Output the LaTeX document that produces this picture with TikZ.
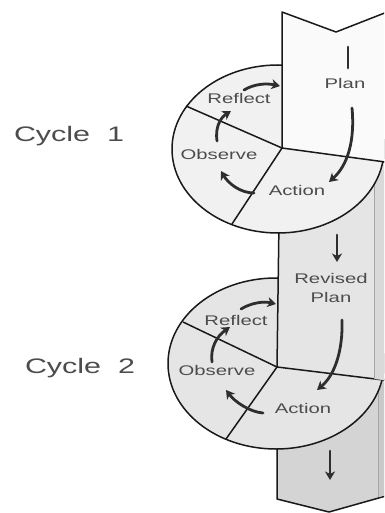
\documentclass[tikz,border=0pt]{standalone}
\usepackage{fontspec}
\setmainfont{Liberation Sans}
\usepackage{graphicx}
\usetikzlibrary{arrows.meta,calc}

\definecolor{colwhite}{gray}{0.98}
\definecolor{discone}{gray}{0.945}
\definecolor{colmid}{gray}{0.9}
\definecolor{sidemid}{gray}{0.85}
\definecolor{disctwo}{gray}{0.9}
\definecolor{colbot}{gray}{0.83}
\definecolor{sidebot}{gray}{0.79}
\definecolor{inktext}{gray}{0.3}
\definecolor{inkline}{gray}{0.1}
\definecolor{inkarrow}{gray}{0.18}

\newcommand{\widetext}[1]{\scalebox{1.45}[1]{#1}}

\begin{document}
\begin{tikzpicture}[
x=1pt, y=-1pt,
edge/.style={
  draw=inkline,
  line width=1.5pt,
  line join=round
  },
sideedge/.style={
  draw=gray!70,
  line width=0.6pt
  },
stepname/.style={
  text=inktext,
  font=\fontsize{14}{19}\selectfont,
  inner sep=1pt,
  align=center
  },
cyclename/.style={
  text=inktext,
  font=\fontsize{21}{24}\selectfont,
  anchor=base
  },
flow/.style={
  draw=inkarrow,
  line width=2.8pt,
  line cap=round,
  -{Stealth[length=8.5pt,width=10pt,inset=2.5pt]}
  },
>=latex
]
\useasboundingbox (0,0) rectangle (384,513);
\clip (0,0) rectangle (384,513);
\fill[white] (0,0) rectangle (384,513);

% column below cycle 2
\filldraw[edge, fill=colbot] (277,367) -- (277,499) -- (329,512) -- (400,492) -- (400,381) -- cycle;
\fill[sidebot] (378,381) -- (400,384) -- (400,492) -- (378,497) -- cycle;
\draw[sideedge] (378,381) -- (378,497);

% disc of cycle 2
\filldraw[edge, fill=disctwo] (276,363.5) ellipse [x radius=108pt, y radius=85.5pt];

% column between the cycles
\filldraw[edge, fill=colmid] (280,148) -- (400,164) -- (400,382) -- (277,367) -- cycle;
\fill[sidemid] (374,170) -- (400,170) -- (400,382) -- (374,379) -- cycle;
\draw[sideedge] (374,170) -- (374,379);

% disc of cycle 1
\filldraw[edge, fill=discone] (278,149) ellipse [x radius=106pt, y radius=84pt];

% column above cycle 1
\filldraw[edge, fill=colwhite] (282,148) -- (282,12) -- (336,32) -- (400,7) -- (400,164) -- cycle;

\coordinate (hubone) at (282,148);
\coordinate (hubtwo) at (277,367);
\draw[edge] (hubone) -- (186,106);
\draw[edge] (hubone) -- (232,224);
\draw[edge] (hubtwo) -- (183,322);
\draw[edge] (hubtwo) -- (226,439);

\node[cyclename] at (69,142) (cycle1) {\widetext{Cycle~~1}};
\node[cyclename] at (80,373) (cycle2) {\widetext{Cycle~~2}};

\node[stepname, anchor=base] at (345,89) (plan1) {\widetext{Plan}};
\node[stepname, anchor=base] at (297,195) (action1) {\widetext{Action}};
\node[stepname, anchor=base] at (219,159) (observe1) {\widetext{Observe}};
\node[stepname, anchor=base] at (239,104) (reflect1) {\widetext{Reflect}};

\node[stepname] at (331,288) (plan2) {\widetext{Revised}\\\widetext{Plan}};
\node[stepname, anchor=base] at (303,413) (action2) {\widetext{Action}};
\node[stepname, anchor=base] at (217,375) (observe2) {\widetext{Observe}};
\node[stepname, anchor=base] at (236,325) (reflect2) {\widetext{Reflect}};

\coordinate (plantop) at (348,47);
\coordinate (planbar) at (348,68);
\coordinate (planout) at (352,108);
\coordinate (actin1) at (329,182);
\coordinate (actout1) at (254,193);
\coordinate (obsin1) at (221,171);
\coordinate (obsout1) at (217,141);
\coordinate (refin1) at (231,111);
\coordinate (refout1) at (244,90);
\coordinate (colin1) at (280,86);
\coordinate (downout1) at (337,235);
\coordinate (downin1) at (337,262);

\coordinate (planout2) at (342,320);
\coordinate (actin2) at (317,390);
\coordinate (actout2) at (263,413);
\coordinate (obsin2) at (226,390);
\coordinate (obsout2) at (212,362);
\coordinate (refin2) at (230,327);
\coordinate (refout2) at (241,309);
\coordinate (colin2) at (276,304);
\coordinate (downout2) at (330,451);
\coordinate (downin2) at (330,480);

\draw[flow, -] (plantop) -- (planbar);
\draw[flow] (planout) .. controls (355,140) and (348,165) .. (actin1);
\draw[flow] (actout1) .. controls (240,193) and (228,183) .. (obsin1);
\draw[flow] (obsout1) .. controls (215,128) and (220,118) .. (refin1);
\draw[flow] (refout1) .. controls (254,84) and (266,83) .. (colin1);
\draw[flow] (downout1) -- (downin1);

\draw[flow] (planout2) .. controls (343,350) and (335,375) .. (actin2);
\draw[flow] (actout2) .. controls (250,412) and (235,402) .. (obsin2);
\draw[flow] (obsout2) .. controls (210,348) and (217,336) .. (refin2);
\draw[flow] (refout2) .. controls (251,303) and (263,301) .. (colin2);
\draw[flow] (downout2) -- (downin2);
\end{tikzpicture}
\end{document}
